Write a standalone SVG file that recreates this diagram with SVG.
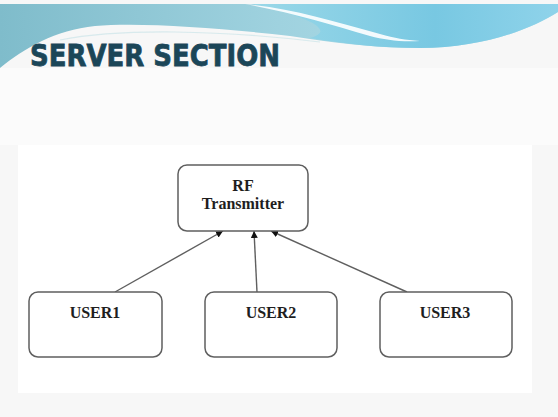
<svg xmlns="http://www.w3.org/2000/svg" width="558" height="417" viewBox="0 0 558 417">
  <defs>
    <linearGradient id="bandLeft" x1="0" y1="0" x2="1" y2="0">
      <stop offset="0" stop-color="#7fbccb"/>
      <stop offset="0.5" stop-color="#9fd2df"/>
      <stop offset="1" stop-color="#b6e1ec"/>
    </linearGradient>
    <linearGradient id="bandRight" x1="0" y1="0" x2="1" y2="0">
      <stop offset="0" stop-color="#9ad8e8"/>
      <stop offset="0.6" stop-color="#78c8e2"/>
      <stop offset="1" stop-color="#8fd3ea"/>
    </linearGradient>
    <marker id="arrow" viewBox="0 0 10 10" refX="10" refY="5" markerWidth="7" markerHeight="7" markerUnits="userSpaceOnUse" orient="auto">
      <path d="M0,0 L10,5 L0,10 Z" fill="#111"/>
    </marker>
    <style>
      .box { fill: #ffffff; stroke: #5f5f5f; stroke-width: 1.5; }
      .label { font-family: "Liberation Serif", "Times New Roman", serif; font-weight: bold; font-size: 16px; fill: #1e1e1e; text-anchor: middle; }
      .edge { stroke: #5f5f5f; stroke-width: 1.4; fill: none; marker-end: url(#arrow); }
      .title { font-family: "DejaVu Sans", "Liberation Sans", sans-serif; font-weight: bold; font-size: 31px; fill: #1b4658; stroke: #1b4658; stroke-width: 0.8; }
    </style>
  </defs>

  <!-- slide background -->
  <rect x="0" y="0" width="558" height="417" fill="#f7f7f7"/>
  <rect x="0" y="68" width="558" height="77" fill="#fbfbfb"/>

  <!-- header wave band -->
  <path d="M0,4 H558 V12 C530,30 480,48 420,48 C370,48 330,42 290,36 C220,28 140,22 95,26 C55,30 25,48 0,68 Z" fill="url(#bandLeft)"/>
  <path d="M250,4 H558 V12 C530,30 480,48 420,48 C380,48 345,44 310,38 C340,30 300,14 250,4 Z" fill="url(#bandRight)"/>
  <path d="M245,4 C290,8 330,20 380,34 C395,38 405,40 420,41 C400,42 385,40 370,36 C330,24 290,12 245,4 Z" fill="#ffffff" opacity="0.9"/>
  <path d="M60,40 C120,28 220,30 320,42" stroke="#cfe6ea" stroke-width="1.2" fill="none" opacity="0.8"/>

  <!-- title -->
  <text class="title" x="30" y="66" textLength="250" lengthAdjust="spacingAndGlyphs">SERVER SECTION</text>

  <!-- diagram canvas -->
  <rect x="18" y="145" width="514" height="248" fill="#ffffff"/>

  <!-- connectors -->
  <g id="connectors">
    <line class="edge" x1="115" y1="292" x2="223" y2="231"/>
    <line class="edge" x1="257" y1="292" x2="254" y2="231"/>
    <line class="edge" x1="407" y1="292" x2="271" y2="231"/>
  </g>

  <!-- nodes -->
  <g id="rf-transmitter">
    <rect class="box" x="178" y="165" width="130" height="66" rx="9"/>
    <text class="label" x="243" y="191">RF</text>
    <text class="label" x="243" y="209">Transmitter</text>
  </g>
  <g id="user1">
    <rect class="box" x="29" y="292" width="133" height="65" rx="9"/>
    <text class="label" x="95" y="318">USER1</text>
  </g>
  <g id="user2">
    <rect class="box" x="205" y="292" width="132" height="65" rx="9"/>
    <text class="label" x="271" y="318">USER2</text>
  </g>
  <g id="user3">
    <rect class="box" x="380" y="292" width="132" height="65" rx="9"/>
    <text class="label" x="445" y="318">USER3</text>
  </g>
</svg>
